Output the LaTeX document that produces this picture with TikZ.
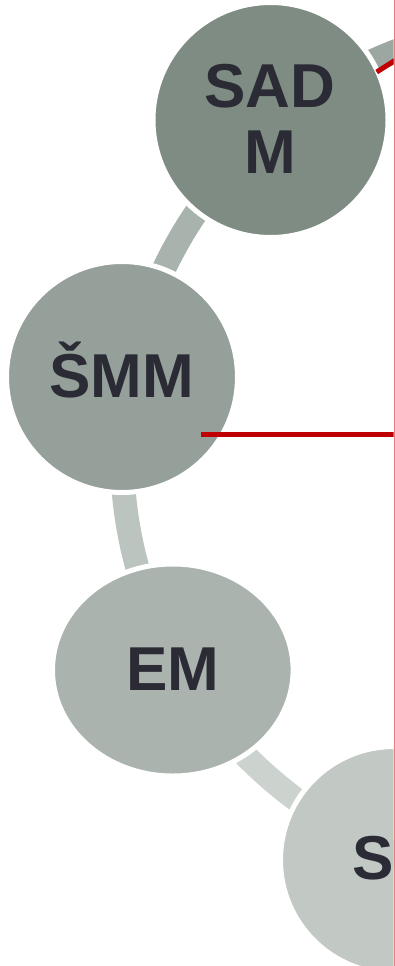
\documentclass[tikz,border=0pt]{standalone}
\usepackage{fontspec}
\setmainfont{Liberation Sans}
\usetikzlibrary{shapes.geometric}
\definecolor{cA}{HTML}{7F8C84}
\definecolor{cB}{HTML}{96A09A}
\definecolor{cC}{HTML}{ABB3AE}
\definecolor{cD}{HTML}{C2C8C4}
\definecolor{bA}{HTML}{9DA7A1}
\definecolor{bB}{HTML}{A9B3AD}
\definecolor{bC}{HTML}{BBC4BF}
\definecolor{bD}{HTML}{CCD3CF}
\definecolor{txt}{HTML}{2B2B35}
\definecolor{redl}{HTML}{C00000}
\definecolor{pinkl}{HTML}{E08080}
\tikzset{
  band/.style={line width=24pt},
  bub/.style={circle, draw=white, line width=5pt, inner sep=0pt},
  lbl/.style={text=txt, font=\bfseries\fontsize{62}{66}\selectfont, inner sep=0pt},
  redline/.style={redl, line width=5pt}
}
\begin{document}
\begin{tikzpicture}[x=1pt,y=-1pt]
\useasboundingbox (0,0) rectangle (395,966);
\begin{scope}
\clip (0,0) rectangle (393.6,966);
% connector bands (arcs of a large circle)
\draw[band, bA] plot[domain=-130:-100, samples=30] ({552+432*cos(\x)},{454+432*sin(\x)});
\draw[band, bB] plot[domain=190:230, samples=30] ({552+430*cos(\x)},{454+430*sin(\x)});
\draw[band, bC] plot[domain=150:190, samples=30] ({552+430*cos(\x)},{454+430*sin(\x)});
\draw[band, bD] plot[domain=111:151, samples=30] ({552+430*cos(\x)},{454+430*sin(\x)});
% bubbles
\node[bub, fill=cA, minimum size=235pt] (sadm) at (270.5,120) {};
\node[bub, fill=cB, minimum size=231pt] (smm) at (122,377) {};
\node[bub, ellipse, fill=cC, minimum width=240.6pt, minimum height=212pt] (em) at (172.8,670) {};
\node[bub, fill=cD, minimum size=227pt] (s) at (394,860) {};
% labels
\node[lbl, anchor=base] (t1a) at (270,107) {SAD};
\node[lbl, anchor=base] (t1b) at (270,173) {M};
\node[lbl, anchor=base] (t2) at (121.5,397) {ŠMM};
\node[lbl, anchor=base] (t3) at (173,690) {EM};
\node[lbl, anchor=base west] (t4) at (352.5,879) {S};
% red lines
\coordinate (r1a) at (376.7,72);
\coordinate (r1b) at (405,54);
\coordinate (r2a) at (201,434.8);
\coordinate (r2b) at (400,434.8);
\draw[redline] (r1a) -- (r1b);
\draw[redline] (r2a) -- (r2b);
\end{scope}
\coordinate (vt) at (394.3,0);
\coordinate (vb) at (394.3,966);
\draw[pinkl, line width=1.2pt] (vt) -- (vb);
\end{tikzpicture}
\end{document}
